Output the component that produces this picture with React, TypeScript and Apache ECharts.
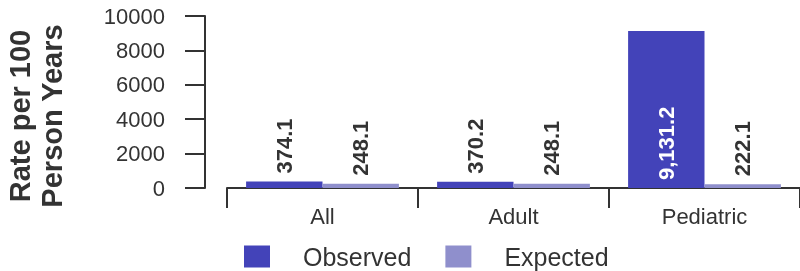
import React, { useEffect, useRef } from "react";
import * as echarts from "echarts";

const categories = ["All", "Adult", "Pediatric"];
const observed = [374.1, 370.2, 9131.2];
const expected = [248.1, 248.1, 222.1];
const yTicks = { min: 0, max: 10000, interval: 2000 };

const FONT = "'Liberation Sans', Arial, Helvetica, sans-serif";
const DARK = "#333333";
const OBS = "#4343b9";
const EXP = "#8f8fcc";

const fmt = (v: number) =>
  v.toLocaleString("en-US", { minimumFractionDigits: 1, maximumFractionDigits: 1 });

export default function App() {
  const ref = useRef<HTMLDivElement>(null);
  useEffect(() => {
    if (!ref.current) return;
    const chart = echarts.init(ref.current, undefined, { renderer: "svg" });
    const labelBase = {
      show: true,
      position: "top",
      rotate: 90,
      align: "left",
      verticalAlign: "middle",
      distance: 8,
      fontFamily: FONT,
      fontWeight: "bold",
      fontSize: 22,
      color: DARK,
      formatter: (p: any) => fmt(p.value),
    };
    chart.setOption({
      animation: false,
      textStyle: { fontFamily: FONT },
      grid: { left: 227, top: 16, width: 578, height: 172 },
      legend: {
        left: 239,
        top: 239,
        itemWidth: 26,
        itemHeight: 22,
        itemGap: 34,
        icon: "rect",
        textStyle: { fontFamily: FONT, fontSize: 25, color: DARK, padding: [0, 0, 0, 28] },
        data: ["Observed", "Expected"],
      },
      graphic: [
        {
          type: "text",
          x: 36,
          y: 116,
          rotation: Math.PI / 2,
          style: {
            text: "Rate per 100\nPerson Years",
            fontFamily: FONT,
            fontWeight: "bold",
            fontSize: 29,
            lineHeight: 32,
            fill: DARK,
            textAlign: "center",
            textVerticalAlign: "middle",
          },
        },
      ],
      xAxis: {
        type: "category",
        data: categories,
        axisLine: { show: true, lineStyle: { color: DARK, width: 2 } },
        axisTick: { show: true, length: 20, lineStyle: { color: DARK, width: 2 } },
        axisLabel: { fontFamily: FONT, fontSize: 22, color: DARK, margin: 17 },
      },
      yAxis: {
        type: "value",
        min: yTicks.min,
        max: yTicks.max,
        interval: yTicks.interval,
        offset: 22,
        splitLine: { show: false },
        axisLine: { show: true, lineStyle: { color: DARK, width: 2 } },
        axisTick: { show: true, length: 20, lineStyle: { color: DARK, width: 2 } },
        axisLabel: {
          fontFamily: FONT,
          fontSize: 22,
          color: DARK,
          margin: 40,
          formatter: (v: number) => String(v),
        },
      },
      series: [
        {
          name: "Observed",
          type: "bar",
          barGap: "0%",
          barCategoryGap: "20%",
          itemStyle: { color: OBS },
          label: labelBase,
          data: observed.map((v, i) =>
            i === 2
              ? { value: v, label: { color: "#ffffff", position: "insideBottom", distance: 8 } }
              : v
          ),
        },
        {
          name: "Expected",
          type: "bar",
          barGap: "0%",
          barCategoryGap: "20%",
          itemStyle: { color: EXP },
          label: labelBase,
          data: expected,
        },
      ],
    });
    return () => chart.dispose();
  }, []);
  return (
    <div
      ref={ref}
      style={{ position: "fixed", left: 0, top: 0, width: 800, height: 271 }}
    />
  );
}
